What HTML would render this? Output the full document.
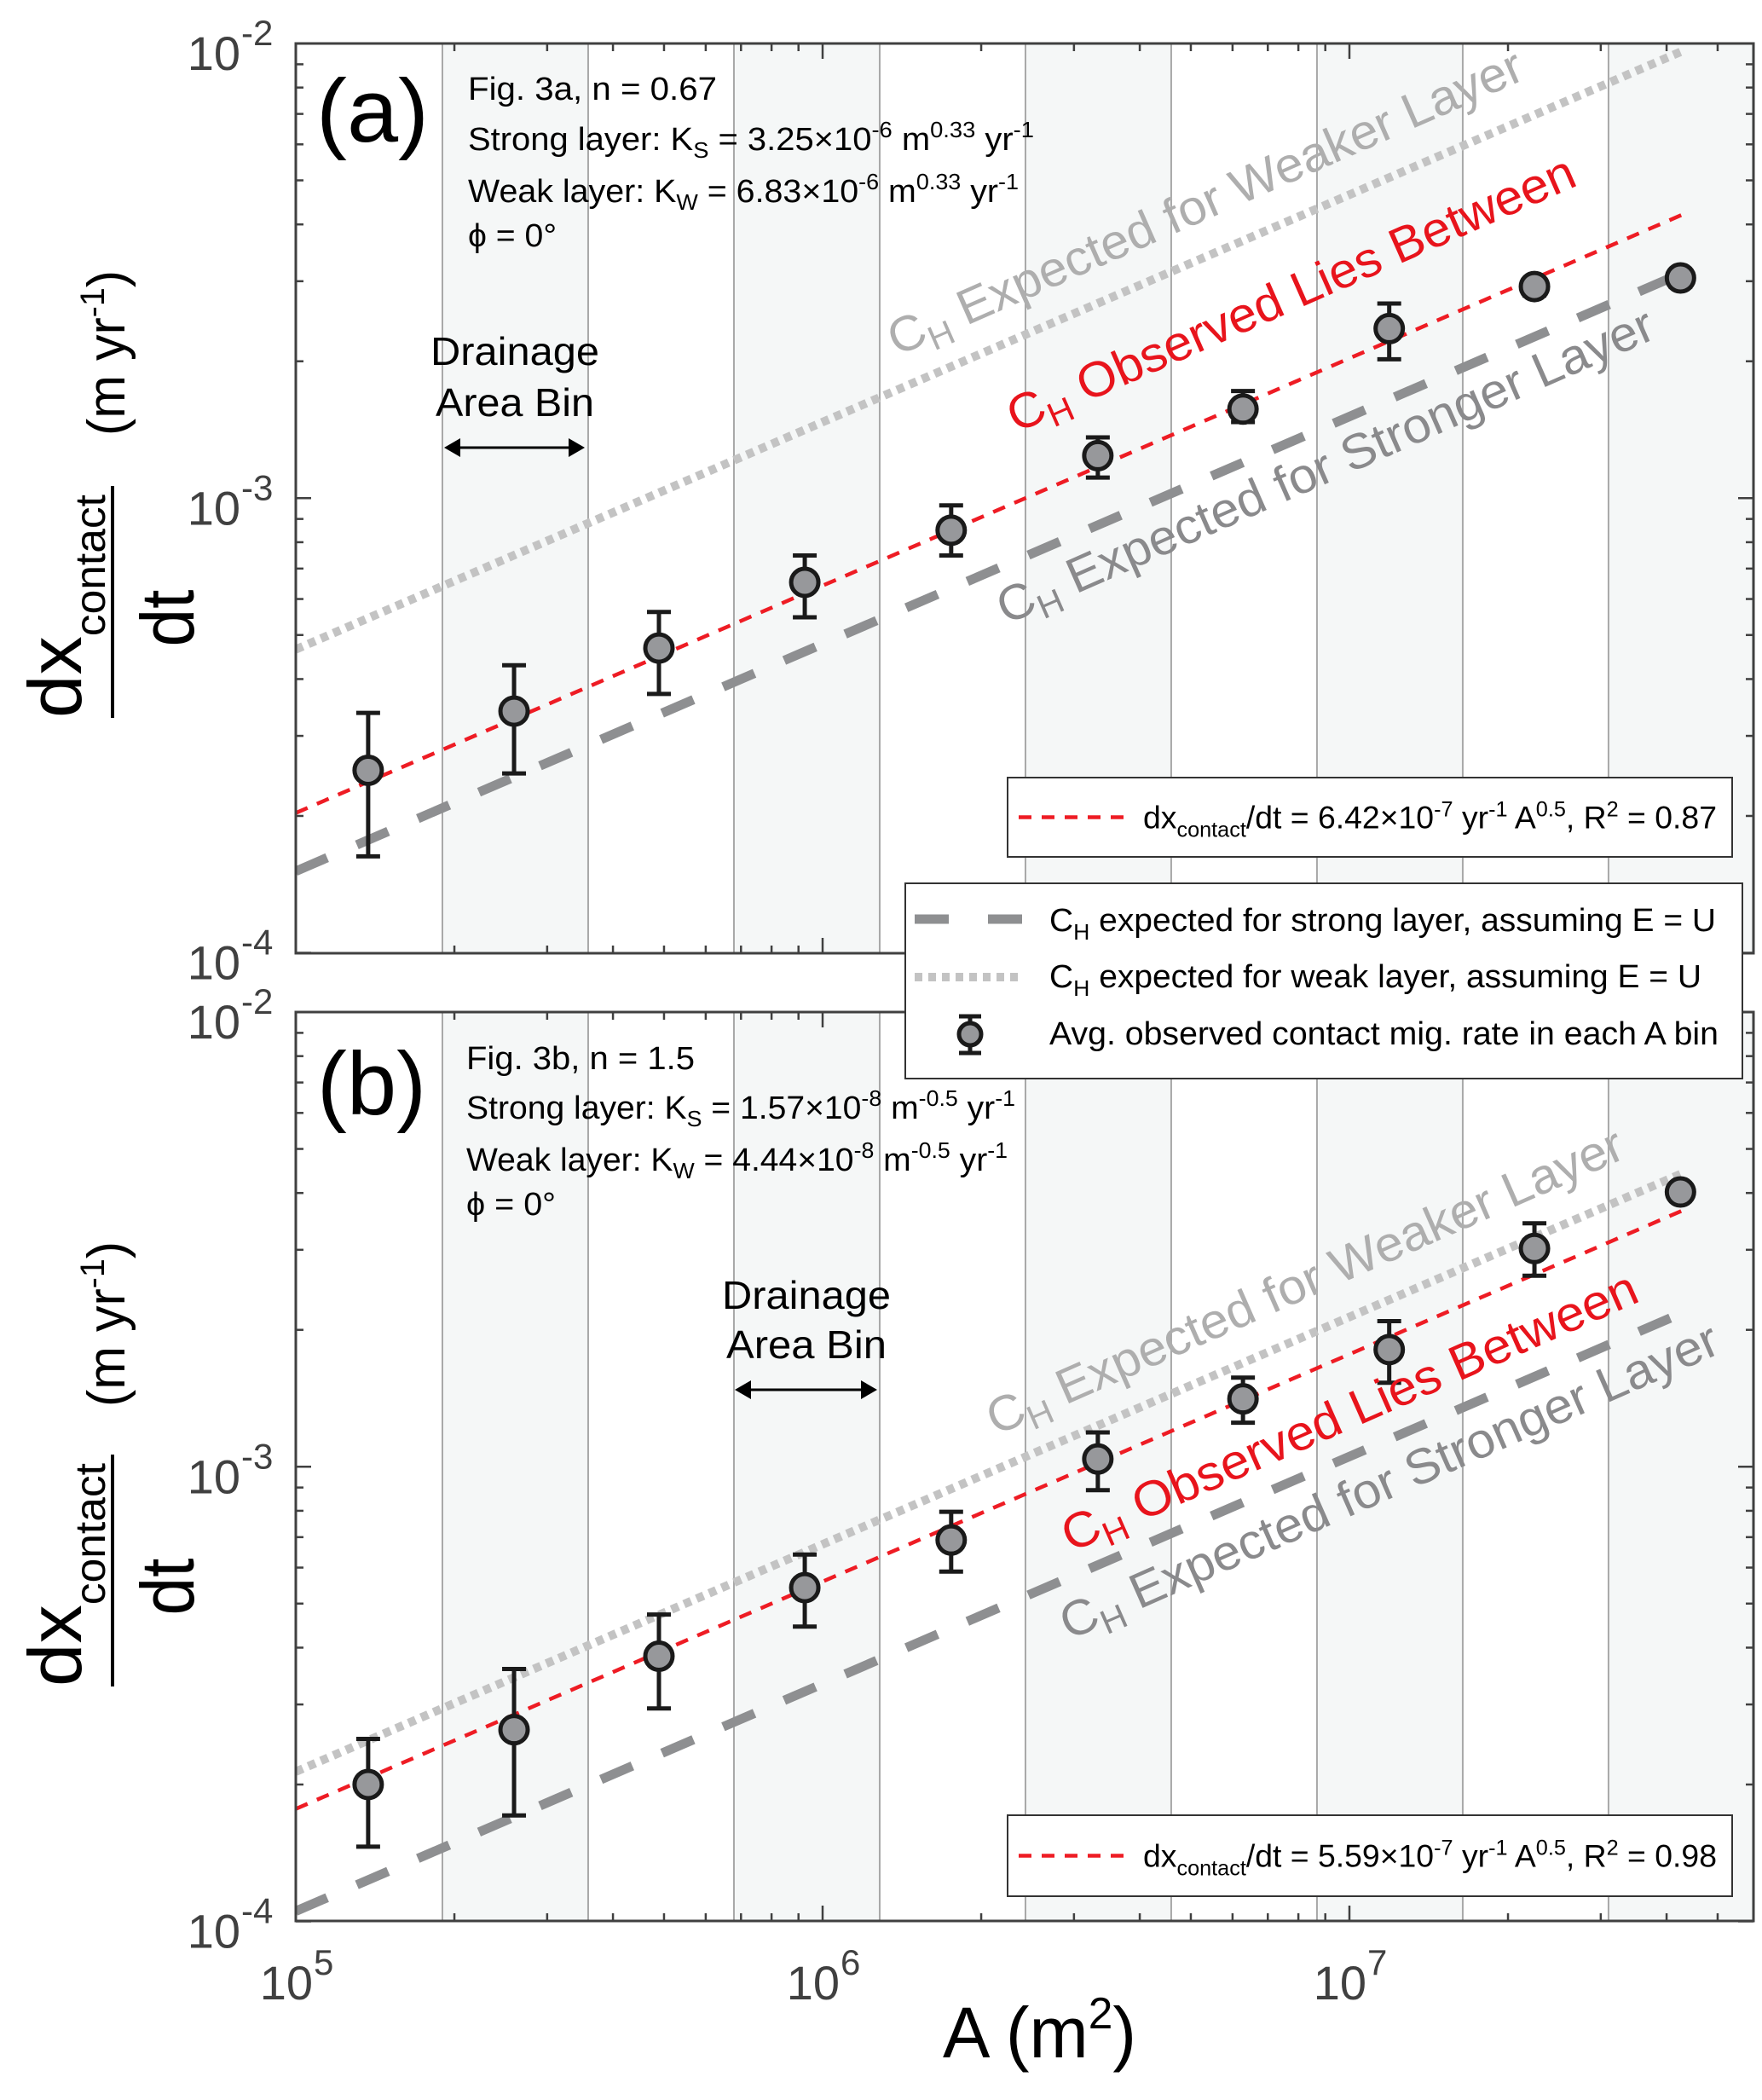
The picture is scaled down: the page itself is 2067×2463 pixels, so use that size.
<!DOCTYPE html>
<html><head><meta charset="utf-8"><style>
html,body{margin:0;padding:0;background:#fff;}
svg{display:block;font-family:"Liberation Sans",Arial,sans-serif;}
</style></head><body>
<svg id="chart" width="2067" height="2463" viewBox="0 0 2067 2463" xmlns="http://www.w3.org/2000/svg">
<g id="layer-bg"></g>
<g id="layer-marks"></g>
<g id="layer-axes"></g>

<!-- Panel a texts -->
<text x="371" y="166" font-size="105" fill="#000" textLength="132" lengthAdjust="spacingAndGlyphs">(a)</text>
<g font-size="38" fill="#000">
<text x="549" y="117" textLength="292" lengthAdjust="spacingAndGlyphs">Fig. 3a, n = 0.67</text>
<text x="549" y="176" textLength="664" lengthAdjust="spacingAndGlyphs">Strong layer: K<tspan font-size="26" dy="9">S</tspan><tspan dy="-9"> = 3.25×10</tspan><tspan font-size="26" dy="-15">-6</tspan><tspan dy="15"> m</tspan><tspan font-size="26" dy="-15">0.33</tspan><tspan dy="15"> yr</tspan><tspan font-size="26" dy="-15">-1</tspan></text>
<text x="549" y="237" textLength="646" lengthAdjust="spacingAndGlyphs">Weak layer: K<tspan font-size="26" dy="9">W</tspan><tspan dy="-9"> = 6.83×10</tspan><tspan font-size="26" dy="-15">-6</tspan><tspan dy="15"> m</tspan><tspan font-size="26" dy="-15">0.33</tspan><tspan dy="15"> yr</tspan><tspan font-size="26" dy="-15">-1</tspan></text>
<text x="549" y="289" textLength="104" lengthAdjust="spacingAndGlyphs">ϕ = 0°</text>
</g>
<g font-size="46" fill="#000" text-anchor="middle">
<text x="604" y="428" textLength="198" lengthAdjust="spacingAndGlyphs">Drainage</text>
<text x="604" y="488" textLength="186" lengthAdjust="spacingAndGlyphs">Area Bin</text>
</g>
<g stroke="#000" fill="#000">
<line x1="535" y1="525" x2="672" y2="525" stroke-width="3"/>
<polygon points="521,525 540,514 540,536" stroke="none"/>
<polygon points="686,525 667,514 667,536" stroke="none"/>
</g>

<!-- Panel b texts -->
<text x="372" y="1307" font-size="105" fill="#000" textLength="128" lengthAdjust="spacingAndGlyphs">(b)</text>
<g font-size="38" fill="#000">
<text x="547" y="1254" textLength="268" lengthAdjust="spacingAndGlyphs">Fig. 3b, n = 1.5</text>
<text x="547" y="1312" textLength="644" lengthAdjust="spacingAndGlyphs">Strong layer: K<tspan font-size="26" dy="9">S</tspan><tspan dy="-9"> = 1.57×10</tspan><tspan font-size="26" dy="-15">-8</tspan><tspan dy="15"> m</tspan><tspan font-size="26" dy="-15">-0.5</tspan><tspan dy="15"> yr</tspan><tspan font-size="26" dy="-15">-1</tspan></text>
<text x="547" y="1373" textLength="635" lengthAdjust="spacingAndGlyphs">Weak layer: K<tspan font-size="26" dy="9">W</tspan><tspan dy="-9"> = 4.44×10</tspan><tspan font-size="26" dy="-15">-8</tspan><tspan dy="15"> m</tspan><tspan font-size="26" dy="-15">-0.5</tspan><tspan dy="15"> yr</tspan><tspan font-size="26" dy="-15">-1</tspan></text>
<text x="547" y="1425" textLength="105" lengthAdjust="spacingAndGlyphs">ϕ = 0°</text>
</g>
<g font-size="46" fill="#000" text-anchor="middle">
<text x="946" y="1535" textLength="198" lengthAdjust="spacingAndGlyphs">Drainage</text>
<text x="946" y="1593" textLength="188" lengthAdjust="spacingAndGlyphs">Area Bin</text>
</g>
<g stroke="#000" fill="#000">
<line x1="876" y1="1630" x2="1015" y2="1630" stroke-width="3"/>
<polygon points="862,1630 881,1619 881,1641" stroke="none"/>
<polygon points="1029,1630 1010,1619 1010,1641" stroke="none"/>
</g>

<!-- Rotated annotations -->
<g font-size="58">
<text fill="#aeaeae" transform="translate(1052,418) rotate(-23.8)" textLength="808" lengthAdjust="spacingAndGlyphs">C<tspan font-size="40" dy="12">H</tspan><tspan dy="-12"> Expected for Weaker Layer</tspan></text>
<text fill="#e8141c" transform="translate(1192,508) rotate(-23.8)" textLength="722" lengthAdjust="spacingAndGlyphs">C<tspan font-size="40" dy="12">H</tspan><tspan dy="-12"> Observed Lies Between</tspan></text>
<text fill="#8a8a8c" transform="translate(1180,733) rotate(-23.8)" textLength="836" lengthAdjust="spacingAndGlyphs">C<tspan font-size="40" dy="12">H</tspan><tspan dy="-12"> Expected for Stronger Layer</tspan></text>
<text fill="#aeaeae" transform="translate(1168,1684) rotate(-23.8)" textLength="810" lengthAdjust="spacingAndGlyphs">C<tspan font-size="40" dy="12">H</tspan><tspan dy="-12"> Expected for Weaker Layer</tspan></text>
<text fill="#e8141c" transform="translate(1256,1821) rotate(-23.8)" textLength="732" lengthAdjust="spacingAndGlyphs">C<tspan font-size="40" dy="12">H</tspan><tspan dy="-12"> Observed Lies Between</tspan></text>
<text fill="#8a8a8c" transform="translate(1254,1924) rotate(-23.8)" textLength="838" lengthAdjust="spacingAndGlyphs">C<tspan font-size="40" dy="12">H</tspan><tspan dy="-12"> Expected for Stronger Layer</tspan></text>
</g>

<!-- Y axis labels -->
<g fill="#000">
<text transform="translate(95,842) rotate(-90)" font-size="88" textLength="262" lengthAdjust="spacingAndGlyphs">dx<tspan font-size="50" dy="28">contact</tspan></text>
<line x1="132" y1="570" x2="132" y2="842" stroke="#000" stroke-width="4"/>
<text transform="translate(227,725) rotate(-90)" font-size="88" text-anchor="middle" textLength="67" lengthAdjust="spacingAndGlyphs">dt</text>
<text transform="translate(146,511) rotate(-90)" font-size="62" textLength="194" lengthAdjust="spacingAndGlyphs">(m yr<tspan font-size="40" dy="-24">-1</tspan><tspan dy="24">)</tspan></text>
</g>
<g fill="#000">
<text transform="translate(95,1978) rotate(-90)" font-size="88" textLength="262" lengthAdjust="spacingAndGlyphs">dx<tspan font-size="50" dy="28">contact</tspan></text>
<line x1="132" y1="1706" x2="132" y2="1978" stroke="#000" stroke-width="4"/>
<text transform="translate(227,1861) rotate(-90)" font-size="88" text-anchor="middle" textLength="67" lengthAdjust="spacingAndGlyphs">dt</text>
<text transform="translate(146,1650) rotate(-90)" font-size="62" textLength="194" lengthAdjust="spacingAndGlyphs">(m yr<tspan font-size="40" dy="-24">-1</tspan><tspan dy="24">)</tspan></text>
</g>
<text x="1106" y="2413" font-size="84" fill="#000" textLength="227" lengthAdjust="spacingAndGlyphs">A (m<tspan font-size="52" dy="-34">2</tspan><tspan dy="34">)</tspan></text>

<g id="layer-legend"></g>
</svg>
<script>
// ---- data ----
const areaBins = [1.372e5, 2.596e5, 4.89e5, 9.25e5, 1.754e6, 3.33e6, 6.28e6, 1.19e7, 2.245e7, 4.25e7];
const rateA = [2.52e-4, 3.4e-4, 4.68e-4, 6.53e-4, 8.5e-4, 1.24e-3, 1.57e-3, 2.36e-3, 2.92e-3, 3.05e-3];
const upperA = [3.37e-4, 4.29e-4, 5.62e-4, 7.48e-4, 9.64e-4, 1.36e-3, 1.72e-3, 2.68e-3, 3.03e-3, 3.17e-3];
const lowerA = [1.63e-4, 2.48e-4, 3.71e-4, 5.47e-4, 7.48e-4, 1.11e-3, 1.47e-3, 2.02e-3, 2.79e-3, 2.92e-3];
const rateB = [2.0e-4, 2.64e-4, 3.83e-4, 5.42e-4, 6.9e-4, 1.04e-3, 1.41e-3, 1.81e-3, 3.02e-3, 4.02e-3];
const upperB = [2.52e-4, 3.59e-4, 4.73e-4, 6.41e-4, 7.96e-4, 1.19e-3, 1.57e-3, 2.09e-3, 3.43e-3, 4.17e-3];
const lowerB = [1.46e-4, 1.71e-4, 2.94e-4, 4.45e-4, 5.88e-4, 8.88e-4, 1.25e-3, 1.53e-3, 2.63e-3, 3.86e-3];
const binEdges = [1.898e5, 3.589e5, 6.787e5, 1.2834e6, 2.427e6, 4.589e6, 8.678e6, 1.641e7, 3.103e7];
const coefA = {fit: 6.42e-7, strong: 4.78e-7, weak: 1.47e-6};
const coefB = {fit: 5.59e-7, strong: 3.33e-7, weak: 6.75e-7};
const slopeExp = [0.5];
const lineRange = [1e5, 4.3e7];
const xTickLabels = ['5', '6', '7'];
const yTickLabels = ['-2', '-3', '-4'];

// ---- axes ----
const NS = 'http://www.w3.org/2000/svg';
const XL = 347, XR = 2057, XDEC = 618;
const panels = [{top: 51, bot: 1118, name: 'a'}, {top: 1187, bot: 2253, name: 'b'}];
const YDEC = 533.25;
function xs(a) { return XL + (Math.log10(a) - 5) * XDEC; }
function ys(v, p) { return p.top + (-2 - Math.log10(v)) * YDEC; }
function mk(tag, attrs, parent) { const e = document.createElementNS(NS, tag); for (const k in attrs) e.setAttribute(k, attrs[k]); parent.appendChild(e); return e; }
const bg = document.getElementById('layer-bg'), marks = document.getElementById('layer-marks'), axes = document.getElementById('layer-axes'), leg = document.getElementById('layer-legend');
const defs = mk('defs', {}, document.getElementById('chart'));

panels.forEach((p, pi) => {
  const cp = mk('clipPath', {id: 'clip' + pi}, defs);
  mk('rect', {x: XL, y: p.top, width: XR - XL, height: p.bot - p.top}, cp);
  const edges = [...binEdges];
  for (let i = 0; i < edges.length; i += 2) {
    const x1 = xs(edges[i]), x2 = i + 1 < edges.length ? xs(edges[i + 1]) : XR;
    const r = mk('rect', {x: x1, y: p.top, width: x2 - x1, height: p.bot - p.top, fill: '#f5f7f7'}, bg);
    
    
  }
  edges.forEach(e => {
    const l = mk('line', {x1: xs(e), x2: xs(e), y1: p.top, y2: p.bot, stroke: '#a8a8a8', 'stroke-width': 2}, bg);
    
    
  });
  const fr = mk('rect', {x: XL, y: p.top, width: XR - XL, height: p.bot - p.top, fill: 'none', stroke: '#404040', 'stroke-width': 3}, axes);
  
  
  for (let d = 5; d <= 7; d++) for (let m = 1; m <= 9; m++) {
    const a = m * Math.pow(10, d); const x = xs(a); if (x > XR) continue;
    const len = m === 1 ? 18 : 9;
    mk('line', {x1: x, x2: x, y1: p.bot, y2: p.bot - len, stroke: '#404040', 'stroke-width': 2.5}, axes);
    mk('line', {x1: x, x2: x, y1: p.top, y2: p.top + len, stroke: '#404040', 'stroke-width': 2.5}, axes);
  }
  for (let d = -4; d <= -3; d++) for (let m = 1; m <= 10; m++) {
    const v = m * Math.pow(10, d); const y = ys(v, p);
    const len = (m === 1 || m === 10) ? 18 : 9;
    mk('line', {x1: XL, x2: XL + len, y1: y, y2: y, stroke: '#404040', 'stroke-width': 2.5}, axes);
    mk('line', {x1: XR, x2: XR - len, y1: y, y2: y, stroke: '#404040', 'stroke-width': 2.5}, axes);
  }
  yTickLabels.forEach((lab, i) => {
    const y = ys(Math.pow(10, -2 - i), p);
    const t = mk('text', {x: 282, y: y + 31, 'font-size': 56, fill: '#404040', 'text-anchor': 'end'}, axes);
    t.textContent = '10';
    
    
    const s = mk('text', {x: 283, y: y + 2, 'font-size': 42, fill: '#404040'}, axes);
    s.textContent = lab;
    
    
  });

  const c = pi === 0 ? coefA : coefB;
  const g = mk('g', {'clip-path': 'url(#clip' + pi + ')'}, marks);
  const styles = {weak: {stroke: '#c3c3c3', w: 10, dash: '9 7'}, strong: {stroke: '#8e8f91', w: 11, dash: '40 38'}, fit: {stroke: '#ee1c24', w: 4.5, dash: '15 12'}};
  ['weak', 'strong', 'fit'].forEach(k => {
    const x1 = lineRange[0], x2 = lineRange[1];
    const l = mk('line', {x1: xs(x1), y1: ys(c[k] * Math.pow(x1, slopeExp[0]), p), x2: xs(x2), y2: ys(c[k] * Math.pow(x2, slopeExp[0]), p), stroke: styles[k].stroke, 'stroke-width': styles[k].w, 'stroke-dasharray': styles[k].dash}, g);
    
    
  });
  const rate = pi === 0 ? rateA : rateB, up = pi === 0 ? upperA : upperB, lo = pi === 0 ? lowerA : lowerB;
  areaBins.forEach((a, i) => {
    const x = xs(a);
    const eb = mk('g', {stroke: '#1a1a1a', 'stroke-width': 5}, marks);
    
    
    mk('line', {x1: x, x2: x, y1: ys(up[i], p), y2: ys(lo[i], p)}, eb);
    mk('line', {x1: x - 14, x2: x + 14, y1: ys(up[i], p), y2: ys(up[i], p)}, eb);
    mk('line', {x1: x - 14, x2: x + 14, y1: ys(lo[i], p), y2: ys(lo[i], p)}, eb);
    const ci = mk('circle', {cx: x, cy: ys(rate[i], p), r: 16, fill: '#97989b', stroke: '#1a1a1a', 'stroke-width': 5}, marks);
    
    
  });
});
xTickLabels.forEach((lab, i) => {
  const x = xs(Math.pow(10, 5 + i));
  const t = mk('text', {x: x + 20, y: 2345, 'font-size': 56, fill: '#404040', 'text-anchor': 'end'}, axes);
  t.textContent = '10';
  
  
  const s = mk('text', {x: x + 21, y: 2316, 'font-size': 42, fill: '#404040'}, axes);
  s.textContent = lab;
  
  
});

function fitLegend(y0, y1, coefTxt, r2) {
  const g = mk('g', {}, leg);
  
  
  mk('rect', {x: 1182, y: y0, width: 850, height: y1 - y0, fill: '#fff', stroke: '#333', 'stroke-width': 2}, g);
  const cy = (y0 + y1) / 2;
  mk('line', {x1: 1195, x2: 1322, y1: cy, y2: cy, stroke: '#ee1c24', 'stroke-width': 4.5, 'stroke-dasharray': '15 12'}, g);
  const t = mk('text', {x: 1341, y: cy + 13, 'font-size': 37, fill: '#000', textLength: 673, lengthAdjust: 'spacingAndGlyphs'}, g);
  t.innerHTML = 'dx<tspan font-size="25" dy="10">contact</tspan><tspan dy="-10">/dt = ' + coefTxt + '×10</tspan><tspan font-size="25" dy="-14">-7</tspan><tspan dy="14"> yr</tspan><tspan font-size="25" dy="-14">-1</tspan><tspan dy="14"> A</tspan><tspan font-size="25" dy="-14">0.5</tspan><tspan dy="14">, R</tspan><tspan font-size="25" dy="-14">2</tspan><tspan dy="14"> = ' + r2 + '</tspan>';
}
fitLegend(912, 1005, '6.42', '0.87');
fitLegend(2129, 2224, '5.59', '0.98');

const lg = mk('g', {}, leg);


mk('rect', {x: 1062, y: 1036, width: 982, height: 229, fill: '#fff', stroke: '#333', 'stroke-width': 2}, lg);
mk('line', {x1: 1073, x2: 1201, y1: 1078, y2: 1078, stroke: '#8e8f91', 'stroke-width': 11, 'stroke-dasharray': '40 46'}, lg);
mk('line', {x1: 1073, x2: 1201, y1: 1146, y2: 1146, stroke: '#c3c3c3', 'stroke-width': 10, 'stroke-dasharray': '9 7'}, lg);
const le = mk('g', {stroke: '#1a1a1a', 'stroke-width': 5}, lg);
mk('line', {x1: 1138, x2: 1138, y1: 1192, y2: 1235}, le);
mk('line', {x1: 1125, x2: 1151, y1: 1192, y2: 1192}, le);
mk('line', {x1: 1125, x2: 1151, y1: 1235, y2: 1235}, le);
mk('circle', {cx: 1138, cy: 1213, r: 13, fill: '#97989b', stroke: '#1a1a1a', 'stroke-width': 5}, lg);
const rows = [
  {y: 1092, html: 'C<tspan font-size="26" dy="10">H</tspan><tspan dy="-10"> expected for strong layer, assuming E = U</tspan>', len: 782},
  {y: 1158, html: 'C<tspan font-size="26" dy="10">H</tspan><tspan dy="-10"> expected for weak layer, assuming E = U</tspan>', len: 765},
  {y: 1225, html: 'Avg. observed contact mig. rate in each A bin', len: 785}
];
rows.forEach(r => {
  const t = mk('text', {x: 1231, y: r.y, 'font-size': 38, fill: '#000', textLength: r.len, lengthAdjust: 'spacingAndGlyphs'}, lg);
  t.innerHTML = r.html;
  
  
});
</script>
</body></html>
